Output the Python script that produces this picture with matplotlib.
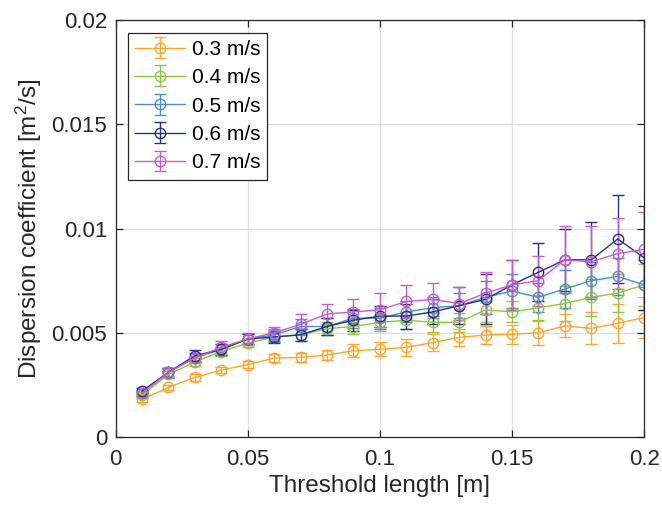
"""Dispersion coefficient vs threshold length for several flow velocities,
with error bars (MATLAB-like look).
"""
import matplotlib
matplotlib.use("Agg")
from matplotlib import pyplot as plt
from matplotlib.ticker import FuncFormatter

plt.rcParams["font.family"] = ["Liberation Sans", "DejaVu Sans"]
plt.rcParams["mathtext.fontset"] = "custom"
plt.rcParams["mathtext.rm"] = "Liberation Sans"
plt.rcParams["mathtext.it"] = "Liberation Sans"

# threshold length [m]
threshold = [0.01, 0.02, 0.03, 0.04, 0.05, 0.06, 0.07, 0.08, 0.09, 0.10,
             0.11, 0.12, 0.13, 0.14, 0.15, 0.16, 0.17, 0.18, 0.19, 0.20]

labels = ["0.3 m/s", "0.4 m/s", "0.5 m/s", "0.6 m/s", "0.7 m/s"]
colors = ["#FFA62B", "#8DC63F", "#4A90C8", "#2B2F85", "#C95BD0"]

d_03 = [0.00180, 0.00238, 0.00286, 0.00321, 0.00347, 0.00378, 0.00382, 0.00393, 0.00414, 0.00421,
        0.00430, 0.00453, 0.00478, 0.00489, 0.00493, 0.00500, 0.00533, 0.00521, 0.00545, 0.00573]
e_03 = [0.00012, 0.00012, 0.00015, 0.00015, 0.00018, 0.00020, 0.00020, 0.00025, 0.00032, 0.00034,
        0.00040, 0.00040, 0.00040, 0.00043, 0.00046, 0.00058, 0.00055, 0.00077, 0.00093, 0.00100]

d_04 = [0.00200, 0.00300, 0.00360, 0.00410, 0.00450, 0.00480, 0.00490, 0.00520, 0.00530, 0.00550,
        0.00560, 0.00550, 0.00550, 0.00610, 0.00600, 0.00620, 0.00640, 0.00670, 0.00690, 0.00730]
e_04 = [0.00015, 0.00015, 0.00020, 0.00020, 0.00020, 0.00025, 0.00030, 0.00030, 0.00035, 0.00040,
        0.00040, 0.00045, 0.00045, 0.00060, 0.00050, 0.00060, 0.00085, 0.00090, 0.00090, 0.00100]

d_05 = [0.00210, 0.00310, 0.00380, 0.00420, 0.00470, 0.00490, 0.00530, 0.00530, 0.00570, 0.00570,
        0.00600, 0.00620, 0.00630, 0.00670, 0.00700, 0.00670, 0.00710, 0.00750, 0.00770, 0.00730]
e_05 = [0.00015, 0.00020, 0.00020, 0.00025, 0.00025, 0.00030, 0.00035, 0.00040, 0.00045, 0.00050,
        0.00050, 0.00050, 0.00060, 0.00080, 0.00080, 0.00070, 0.00090, 0.00090, 0.00090, 0.00120]

d_06 = [0.00220, 0.00310, 0.00390, 0.00420, 0.00470, 0.00480, 0.00490, 0.00530, 0.00560, 0.00580,
        0.00580, 0.00600, 0.00630, 0.00660, 0.00730, 0.00790, 0.00850, 0.00850, 0.00950, 0.00860]
e_06 = [0.00015, 0.00020, 0.00025, 0.00025, 0.00025, 0.00030, 0.00030, 0.00040, 0.00050, 0.00050,
        0.00060, 0.00060, 0.00090, 0.00120, 0.00120, 0.00140, 0.00150, 0.00180, 0.00210, 0.00250]

d_07 = [0.00210, 0.00310, 0.00380, 0.00430, 0.00470, 0.00500, 0.00540, 0.00590, 0.00600, 0.00610,
        0.00650, 0.00660, 0.00640, 0.00690, 0.00730, 0.00750, 0.00850, 0.00840, 0.00880, 0.00900]
e_07 = [0.00015, 0.00020, 0.00025, 0.00030, 0.00030, 0.00030, 0.00050, 0.00050, 0.00060, 0.00080,
        0.00080, 0.00080, 0.00080, 0.00100, 0.00120, 0.00120, 0.00160, 0.00170, 0.00170, 0.00180]

series = [(d_03, e_03), (d_04, e_04), (d_05, e_05), (d_06, e_06), (d_07, e_07)]

fig = plt.figure(figsize=(6.62, 5.11), dpi=100)
ax = fig.add_axes([0.1745, 0.1448, 0.7985, 0.8160])

for (d, e), lab, c in zip(series, labels, colors):
    ax.errorbar(threshold, d, yerr=e, fmt="-o", color=c, mfc="none", mec=c,
                ms=7.5, lw=1.0, elinewidth=1.0, capsize=4, capthick=1.0, label=lab)

ax.set_xlim(0, 0.2)
ax.set_ylim(0, 0.02)
ax.set_xticks([0, 0.05, 0.1, 0.15, 0.2])
ax.set_yticks([0, 0.005, 0.01, 0.015, 0.02])
fmt = FuncFormatter(lambda v, p: "%g" % v)
ax.xaxis.set_major_formatter(fmt)
ax.yaxis.set_major_formatter(fmt)

ax.grid(True, color="#dedede", lw=0.9)
ax.set_axisbelow(True)
for s in ax.spines.values():
    s.set_color("#262626")
    s.set_linewidth(0.9)
ax.tick_params(direction="in", length=5, width=0.9, top=True, right=True,
               labelsize=16, colors="#262626")
ax.tick_params(axis="x", pad=8.5)
ax.tick_params(axis="y", pad=6)

ax.set_xlabel("Threshold length [m]", fontsize=17.5, color="#262626", labelpad=4)
ax.set_ylabel("Dispersion coefficient [m$^2$/s]", fontsize=17.5, color="#262626", labelpad=5)

leg = ax.legend(loc="upper left", fontsize=15, frameon=True, fancybox=False,
                framealpha=1, edgecolor="#262626", borderaxespad=0.6,
                handlelength=2.4, handletextpad=0.3, labelspacing=0.45,
                borderpad=0.35)
leg.get_frame().set_linewidth(0.9)

fig.savefig("out.png", dpi=100, facecolor="white")
